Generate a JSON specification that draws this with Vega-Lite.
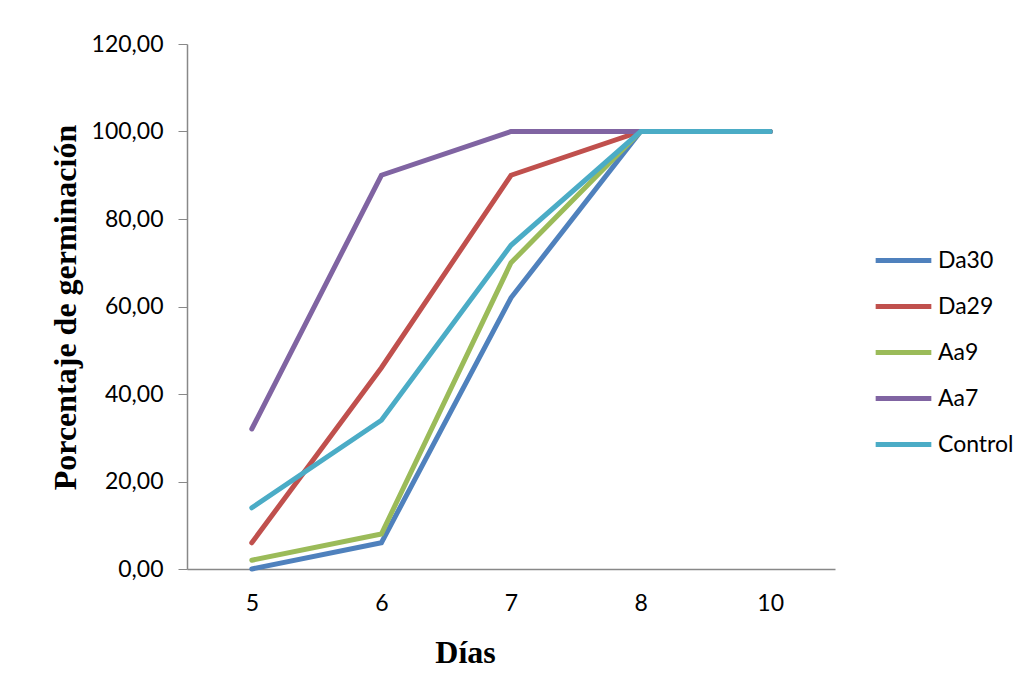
{
  "$schema": "https://vega.github.io/schema/vega-lite/v6.json",
  "autosize": {"type": "none"},
  "padding": {"left": 187, "top": 44, "right": 199, "bottom": 119},
  "width": 648,
  "height": 525,
  "background": "white",
  "config": {
    "view": {"stroke": null},
    "font": "Lato"
  },
  "data": {
    "values": [
      {"serie": "Da30", "dia": "5", "pct": 0},
      {"serie": "Da30", "dia": "6", "pct": 6},
      {"serie": "Da30", "dia": "7", "pct": 62},
      {"serie": "Da30", "dia": "8", "pct": 100},
      {"serie": "Da30", "dia": "10", "pct": 100},
      {"serie": "Da29", "dia": "5", "pct": 6},
      {"serie": "Da29", "dia": "6", "pct": 46},
      {"serie": "Da29", "dia": "7", "pct": 90},
      {"serie": "Da29", "dia": "8", "pct": 100},
      {"serie": "Da29", "dia": "10", "pct": 100},
      {"serie": "Aa9", "dia": "5", "pct": 2},
      {"serie": "Aa9", "dia": "6", "pct": 8},
      {"serie": "Aa9", "dia": "7", "pct": 70},
      {"serie": "Aa9", "dia": "8", "pct": 100},
      {"serie": "Aa9", "dia": "10", "pct": 100},
      {"serie": "Aa7", "dia": "5", "pct": 32},
      {"serie": "Aa7", "dia": "6", "pct": 90},
      {"serie": "Aa7", "dia": "7", "pct": 100},
      {"serie": "Aa7", "dia": "8", "pct": 100},
      {"serie": "Aa7", "dia": "10", "pct": 100},
      {"serie": "Control", "dia": "5", "pct": 14},
      {"serie": "Control", "dia": "6", "pct": 34},
      {"serie": "Control", "dia": "7", "pct": 74},
      {"serie": "Control", "dia": "8", "pct": 100},
      {"serie": "Control", "dia": "10", "pct": 100}
    ]
  },
  "mark": {"type": "line", "strokeWidth": 5, "strokeCap": "round"},
  "encoding": {
    "x": {
      "field": "dia",
      "type": "ordinal",
      "sort": ["5", "6", "7", "8", "10"],
      "scale": {"type": "point", "padding": 0.5},
      "axis": {
        "title": "Días",
        "titleFont": "Liberation Serif",
        "titleFontWeight": "bold",
        "titleFontSize": 32,
        "titleColor": "black",
        "titleBaseline": "middle",
        "titleAlign": "center",
        "titleAnchor": "start",
        "titleX": 278,
        "titleY": 83,
        "labelAngle": 0,
        "labelFont": "Lato",
        "labelFontSize": 23,
        "labelColor": "black",
        "labelPadding": 23,
        "ticks": false,
        "domainColor": "#888888",
        "domainWidth": 1.5,
        "grid": false
      }
    },
    "y": {
      "field": "pct",
      "type": "quantitative",
      "scale": {"domain": [0, 120], "nice": false},
      "axis": {
        "title": "Porcentaje de germinación",
        "titleFont": "Liberation Serif",
        "titleFontWeight": "bold",
        "titleFontSize": 32,
        "titleColor": "black",
        "titleAngle": -90,
        "titleBaseline": "middle",
        "titleAlign": "center",
        "titleX": -122,
        "titleY": 263,
        "values": [0, 20, 40, 60, 80, 100, 120],
        "labelExpr": "replace(format(datum.value, '.2f'), '.', ',')",
        "labelFont": "Lato",
        "labelFontSize": 23,
        "labelColor": "black",
        "labelPadding": 15,
        "tickSize": 9,
        "tickColor": "#888888",
        "domainColor": "#888888",
        "domainWidth": 1.5,
        "grid": false
      }
    },
    "color": {
      "field": "serie",
      "type": "nominal",
      "sort": ["Da30", "Da29", "Aa9", "Aa7", "Control"],
      "scale": {
        "domain": ["Da30", "Da29", "Aa9", "Aa7", "Control"],
        "range": ["#4F81BD", "#C0504D", "#9BBB59", "#8064A2", "#4BACC6"]
      },
      "legend": {
        "title": null,
        "orient": "none",
        "legendX": 686,
        "legendY": 186,
        "padding": 0,
        "symbolType": "stroke",
        "symbolSize": 3100,
        "symbolStrokeWidth": 5,
        "labelFont": "Lato",
        "labelFontSize": 23,
        "labelColor": "black",
        "labelOffset": 4,
        "rowPadding": 3
      }
    }
  }
}
